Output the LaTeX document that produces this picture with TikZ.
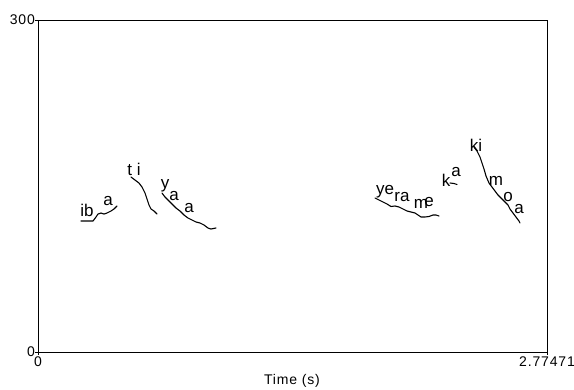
\documentclass[tikz,border=0pt]{standalone}
\usepackage{fontspec}
\setmainfont{Liberation Sans}
\usepackage{tikz}

\begin{document}
\begin{tikzpicture}[x=1pt, y=-1pt,
  syl/.style={font=\fontsize{17}{17}\selectfont, inner sep=0pt, anchor=base},
  axlab/.style={font=\fontsize{14}{14}\selectfont\addfontfeature{LetterSpace=6}, inner sep=0pt},
  pitch/.style={line width=1.1pt, line join=round, line cap=round}]
\useasboundingbox (0,0) rectangle (574,389);

% Drawing the plot frame
\draw[line width=0.8pt] (38,20) rectangle (547,352);

% Frequency ticks and labels
\foreach \y/\hz/\nm in {20/300/ytop, 352/0/ybot} {
  \draw[line width=0.8pt] (38,\y) -- (35,\y);
  \node[axlab, anchor=east] (\nm) at (35,\y) {\hz};
}

% Time ticks and labels
\foreach \x/\t/\nm in {38/0/xleft, 547/2.77471/xright} {
  \draw[line width=0.8pt] (\x,352) -- (\x,355);
  \node[axlab, anchor=north] (\nm) at (\x,357) {\t};
}
\node[axlab, anchor=north] (xtitle) at (292,374) {Time (s)};

% Pitch contours
\draw[pitch] (81,221) -- (93,221) -- (96,217) -- (98,214) -- (101,213) -- (104,214) -- (107,213) -- (111,211) -- (114,209) -- (117,206);
\draw[pitch] (131,177) -- (135,180) -- (139,183) -- (142,187) -- (145,193) -- (147,199) -- (149,205) -- (151,209) -- (154,211) -- (157,214);
\draw[pitch] (162,193) -- (165,197) -- (168,200) -- (172,204) -- (176,208) -- (180,211) -- (184,215) -- (188,218) -- (192,220) -- (196,222) -- (200,223) -- (204,225) -- (208,228) -- (211,229) -- (216,228);
\draw[pitch] (375,198) -- (379,200) -- (383,202) -- (387,204) -- (391,206.5) -- (395,206) -- (399,207) -- (403,209) -- (407,211) -- (411,212) -- (415,213) -- (418,215) -- (421,217) -- (425,217) -- (429,216.5) -- (433,215) -- (436,215) -- (439,216);
\draw[pitch] (450,183) -- (454,183.5) -- (457,184.5);
\draw[pitch] (474,147) -- (477,151) -- (480,157) -- (482,163) -- (484,169) -- (486,176) -- (489,183) -- (492,187) -- (495,191) -- (498,195) -- (502,199) -- (505,202) -- (508,205) -- (510,209) -- (513,213) -- (516,217) -- (519,221) -- (520,223);

% Syllable labels
\foreach \x/\y/\txt/\nm in {87/216/ib/sib, 108/205/a/sa1, 134/175/{t i}/sti,
    165/188/y/sy, 174/200/a/sa2, 189/212/a/sa3,
    385/194/ye/sye, 402/201.5/ra/sra, 421/208/m/sm1, 429/206/e/se,
    446/186.5/k/sk, 456/176.5/a/sa4,
    476/151.5/ki/ski, 496/185/m/sm2, 508/201.5/o/so, 519/213/a/sa5} {
  \node[syl] (\nm) at (\x,\y) {\txt};
}

\end{tikzpicture}
\end{document}
